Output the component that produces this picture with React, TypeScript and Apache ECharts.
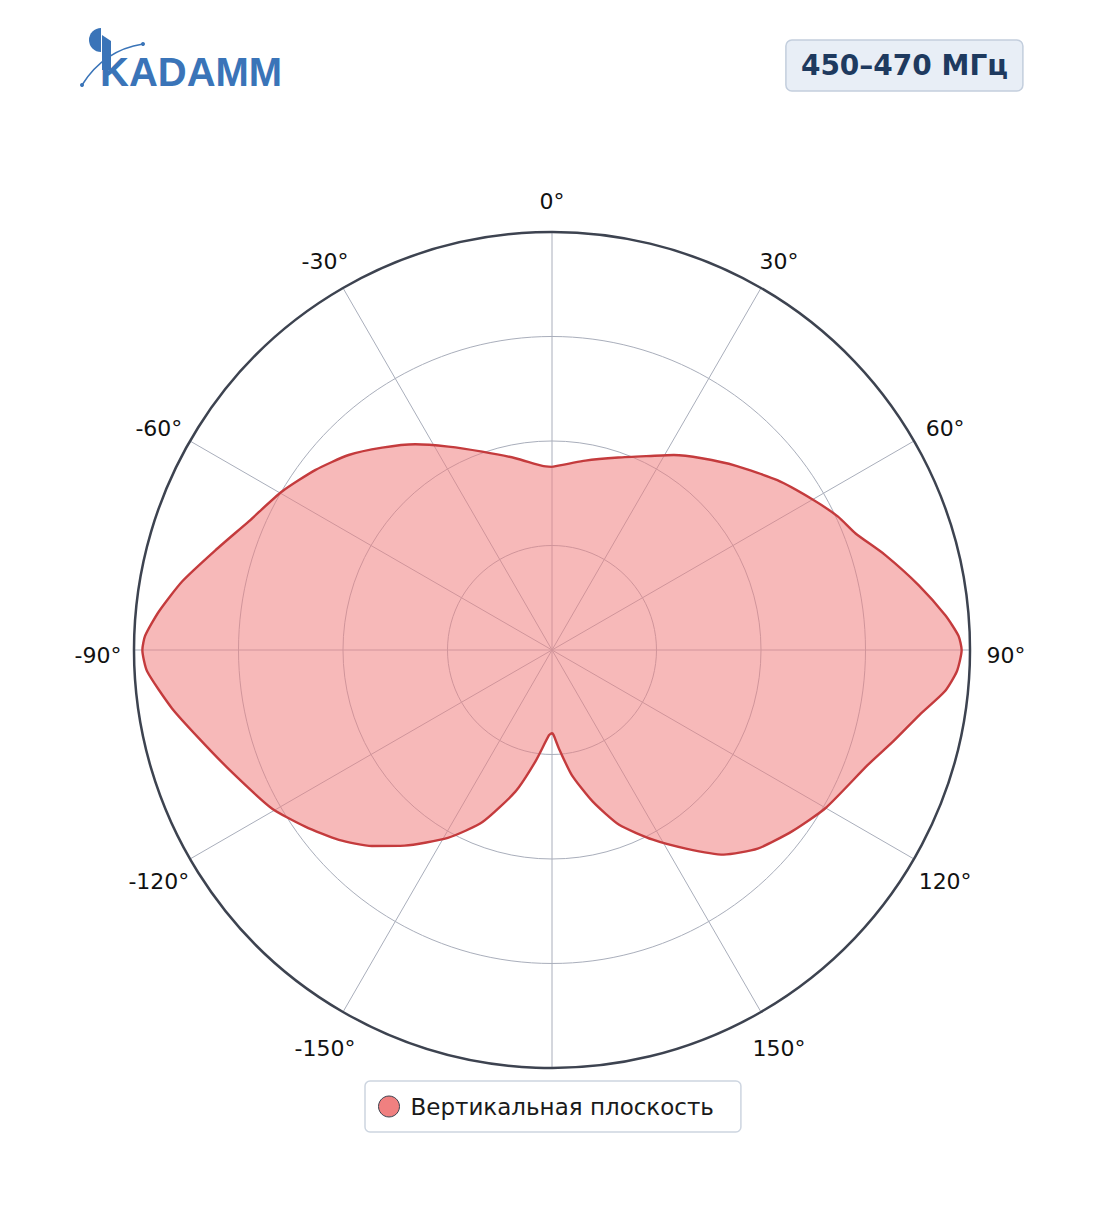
import React, { useEffect, useRef } from "react";
import * as echarts from "echarts";

const TITLE = "450–470 МГц";
const SERIES_NAME = "Вертикальная плоскость";

// angle in degrees, clockwise from top (0..360), value is normalised gain
const angles: number[] = [
  0, 10, 19, 27, 32, 38, 45, 53, 60, 65, 69, 74, 80, 85, 88, 90,
  93, 96, 100, 105, 110, 120, 127, 134, 140, 146, 152, 159, 165, 171, 176, 179, 180,
  182, 188.5, 194.5, 202, 209, 217, 222.6, 228.3, 234.4, 240.5, 249, 256, 261.3, 267, 270,
  272, 275.6, 280.5, 286.5, 293, 300.4, 307.3, 313.8, 320, 326.4, 333, 340.6, 349.2, 357, 360,
];
const gains: number[] = [
  0.438, 0.46, 0.487, 0.521, 0.55, 0.582, 0.623, 0.675, 0.72, 0.755, 0.778, 0.828, 0.891, 0.945, 0.973, 0.98,
  0.97, 0.945, 0.893, 0.845, 0.804, 0.756, 0.72, 0.684, 0.639, 0.573, 0.514, 0.448, 0.375, 0.303, 0.236, 0.203, 0.199,
  0.204, 0.27, 0.35, 0.444, 0.514, 0.586, 0.637, 0.683, 0.726, 0.77, 0.819, 0.871, 0.92, 0.97, 0.98,
  0.974, 0.945, 0.9, 0.84, 0.788, 0.749, 0.711, 0.674, 0.632, 0.591, 0.546, 0.503, 0.467, 0.441, 0.438,
];

const radiusTicks = { min: 0, max: 1, interval: 0.25 };
const angleTicks = { min: 0, max: 360, interval: 30 };

// angular tick labels (180° is hidden behind the legend)
const tickAngles: number[] = [0, 30, 60, 90, 120, 150, 210, 240, 270, 300, 330];
const tickLabels: string[] = ["0°", "30°", "60°", "90°", "120°", "150°", "-150°", "-120°", "-90°", "-60°", "-30°"];
const LABEL_RADIUS = 1.086;

export default function App() {
  const ref = useRef<HTMLDivElement>(null);
  useEffect(() => {
    if (!ref.current) return;
    const chart = echarts.init(ref.current, undefined, { renderer: "svg" });
    const data = angles.map((a, i) => [gains[i], a]);
    const labelData = tickAngles.map((a, i) => ({ value: [LABEL_RADIUS, a], name: tickLabels[i] }));
    const blue = "#3a74b8";
    chart.setOption({
      animation: false,
      backgroundColor: "#ffffff",
      title: {
        text: TITLE,
        right: 81,
        top: 40,
        padding: [10, 15],
        backgroundColor: "#e8eef6",
        borderColor: "#c3cedd",
        borderWidth: 1.5,
        borderRadius: 6,
        textStyle: {
          fontFamily: "DejaVu Sans",
          fontWeight: "bold",
          fontSize: 28,
          color: "#1e3a5f",
          lineHeight: 31,
        },
      },
      legend: {
        left: 365,
        top: 1081,
        padding: [14, 27, 14, 13],
        backgroundColor: "#ffffff",
        borderColor: "#cdd5e0",
        borderWidth: 1.5,
        borderRadius: 5,
        itemWidth: 21,
        itemHeight: 21,
        data: [
          {
            name: SERIES_NAME,
            icon: "circle",
            itemStyle: { color: "#f08080", borderColor: "#3d4350", borderWidth: 1 },
          },
        ],
        textStyle: {
          fontFamily: "DejaVu Sans",
          fontSize: 23,
          color: "#1a1a1a",
          padding: [0, 0, 0, 6],
        },
      },
      polar: { center: [552, 650], radius: 418 },
      radiusAxis: {
        type: "value",
        ...radiusTicks,
        axisLabel: { show: false },
        axisLine: { show: false },
        axisTick: { show: false },
        splitLine: { show: true, lineStyle: { color: "#a9aebb", width: 1 } },
      },
      angleAxis: {
        type: "value",
        ...angleTicks,
        startAngle: 90,
        clockwise: true,
        axisLine: { show: true, lineStyle: { color: "#3d4350", width: 2.5 } },
        axisTick: { show: false },
        splitLine: { show: true, lineStyle: { color: "#a9aebb", width: 1 } },
        axisLabel: { show: false },
      },
      series: [
        {
          name: SERIES_NAME,
          type: "line",
          coordinateSystem: "polar",
          data,
          smooth: 0.2,
          symbol: "none",
          lineStyle: { color: "#c43b3d", width: 2.4 },
          itemStyle: { color: "#f08080" },
          areaStyle: { color: "#f08080", opacity: 0.55 },
        },
        {
          name: "tick-labels",
          type: "scatter",
          coordinateSystem: "polar",
          silent: true,
          clip: false,
          symbolSize: 1,
          itemStyle: { color: "rgba(0,0,0,0)" },
          data: labelData,
          label: {
            show: true,
            position: "inside",
            offset: [0, 5],
            formatter: (p: any) => p.name,
            fontFamily: "DejaVu Sans",
            fontSize: 22,
            color: "#111111",
            opacity: 1,
          },
        },
      ],
      graphic: [
        {
          type: "group",
          children: [
            {
              type: "sector",
              shape: { cx: 101, cy: 40, r: 12, r0: 0, startAngle: Math.PI / 2, endAngle: (3 * Math.PI) / 2, clockwise: true },
              style: { fill: blue },
            },
            {
              type: "polygon",
              shape: { points: [[102, 35], [111, 41], [111, 70], [102, 70]] },
              style: { fill: blue },
            },
            {
              type: "bezierCurve",
              shape: { x1: 82, y1: 85, x2: 143, y2: 44, cpx1: 104, cpy1: 50 },
              style: { stroke: blue, lineWidth: 1.5, fill: "none" },
            },
            { type: "circle", shape: { cx: 82, cy: 85, r: 2 }, style: { fill: blue } },
            { type: "circle", shape: { cx: 143, cy: 44, r: 2 }, style: { fill: blue } },
            {
              type: "text",
              x: 100,
              y: 92,
              style: {
                text: "KADAMM",
                fill: blue,
                font: "bold 40px 'Liberation Sans'",
                textVerticalAlign: "bottom",
              },
            },
          ],
        },
      ],
    });
    return () => chart.dispose();
  }, []);
  return (
    <div
      ref={ref}
      style={{ position: "fixed", left: 0, top: 0, width: 1104, height: 1211 }}
    />
  );
}
